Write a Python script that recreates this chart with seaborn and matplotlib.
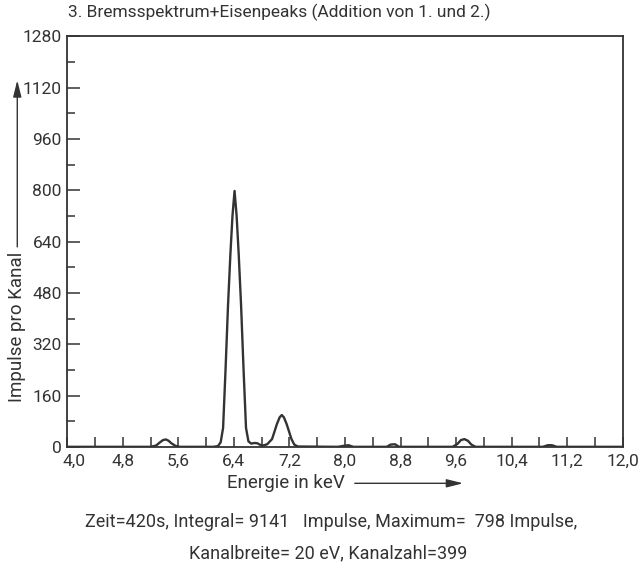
import numpy as np
import pandas as pd
import seaborn as sns
import matplotlib
matplotlib.use("Agg")
import matplotlib.pyplot as plt
from matplotlib.patches import FancyArrowPatch
from matplotlib.transforms import ScaledTranslation
from matplotlib.ticker import MultipleLocator, FuncFormatter

# spectrum (keV, counts per channel), one line per region
energie = [4.0, 4.8, 5.2,
           5.28, 5.33, 5.38, 5.42, 5.46, 5.5, 5.56, 5.62,
           6.0, 6.1, 6.17, 6.21, 6.245, 6.28, 6.316, 6.35, 6.38,
           6.41, 6.44, 6.47, 6.504, 6.54, 6.575, 6.61,
           6.65, 6.7, 6.74, 6.78, 6.82, 6.88,
           6.95, 6.98, 7.02, 7.06, 7.09, 7.12, 7.16, 7.2, 7.23, 7.27, 7.32,
           7.9, 7.98, 8.05, 8.12,
           8.6, 8.66, 8.72, 8.78,
           9.55, 9.62, 9.67, 9.72, 9.77, 9.82, 9.88,
           10.85, 10.92, 10.98, 11.05, 12.0]
impulse = [1, 1, 1,
           5, 14, 22, 24, 20, 12, 4, 1,
           1, 1, 3, 15, 60, 240, 442, 600, 720,
           798, 720, 600, 442, 240, 60, 18,
           11, 13, 12, 7, 5, 9,
           25, 45, 72, 93, 100, 93, 72, 45, 25, 8, 2,
           1, 4, 6, 1,
           1, 8, 9, 1,
           1, 10, 22, 25, 20, 8, 1,
           1, 6, 6, 1, 1]

x_ticks = [4.0, 4.8, 5.6, 6.4, 7.2, 8.0, 8.8, 9.6, 10.4, 11.2, 12.0]
y_ticks = [0, 160, 320, 480, 640, 800, 960, 1120, 1280]

titel = "3. Bremsspektrum+Eisenpeaks (Addition von 1. und 2.)"
zeile1 = "Zeit=420s, Integral= 9141   Impulse, Maximum=  798 Impulse,"
zeile2 = "Kanalbreite= 20 eV, Kanalzahl=399"

sns.set_theme(style="white")
plt.rcParams["font.family"] = ["Roboto", "DejaVu Sans"]

ink = "#333333"
df = pd.DataFrame({"Energie": energie, "Impulse": impulse})

fig = plt.figure(figsize=(6.4, 5.74), dpi=100)
ax = fig.add_axes([0.105, 0.221, 0.868, 0.716])
sns.lineplot(data=df, x="Energie", y="Impulse", ax=ax, color=ink, lw=1.7)

ax.set_xlim(4.0, 12.0)
ax.set_ylim(0, 1280)
ax.set_xticks(x_ticks)
ax.set_yticks(y_ticks)
ax.xaxis.set_minor_locator(MultipleLocator(0.4))
ax.yaxis.set_minor_locator(MultipleLocator(80))
ax.xaxis.set_major_formatter(FuncFormatter(lambda v, p: f"{v:.1f}".replace(".", ",")))
ax.tick_params(axis="both", which="both", direction="in", colors=ink,
               labelsize=12.5, bottom=True, left=True, top=False, right=False)
ax.tick_params(axis="x", which="major", length=7, width=1.1, pad=5)
ax.tick_params(axis="x", which="minor", length=7, width=1.1)
ax.tick_params(axis="y", which="major", length=9, width=1.1, pad=4)
ax.tick_params(axis="y", which="minor", length=6, width=1.1)
# nudge the first x label right so it clears the "0"
first = ax.get_xticklabels()[0]
first.set_transform(first.get_transform() + ScaledTranslation(5 / 72, 0, fig.dpi_scale_trans))
for s in ax.spines.values():
    s.set_color(ink)
    s.set_linewidth(1.3)
ax.set_xlabel("")
ax.set_ylabel("")

# axis captions with arrows
fig.text(0.355, 0.158, "Energie in keV", ha="left", va="center", fontsize=13.5, color=ink)
fig.add_artist(FancyArrowPatch(
    (0.55, 0.158), (0.728, 0.158), transform=fig.transFigure,
    arrowstyle="-|>,head_length=10,head_width=2.5", color=ink, lw=1.0))
fig.text(0.027, 0.43, "Impulse pro Kanal", rotation=90, ha="center", va="center",
         fontsize=13.5, color=ink)
fig.add_artist(FancyArrowPatch(
    (0.027, 0.565), (0.027, 0.865), transform=fig.transFigure,
    arrowstyle="-|>,head_length=10,head_width=2.5", color=ink, lw=1.0))

fig.text(0.106, 0.978, titel, ha="left", va="center", fontsize=12.5, color=ink)
fig.text(0.518, 0.09, zeile1, ha="center", va="center", fontsize=13, color=ink)
fig.text(0.513, 0.036, zeile2, ha="center", va="center", fontsize=13, color=ink)

fig.savefig("out.png", dpi=100, facecolor="white")
